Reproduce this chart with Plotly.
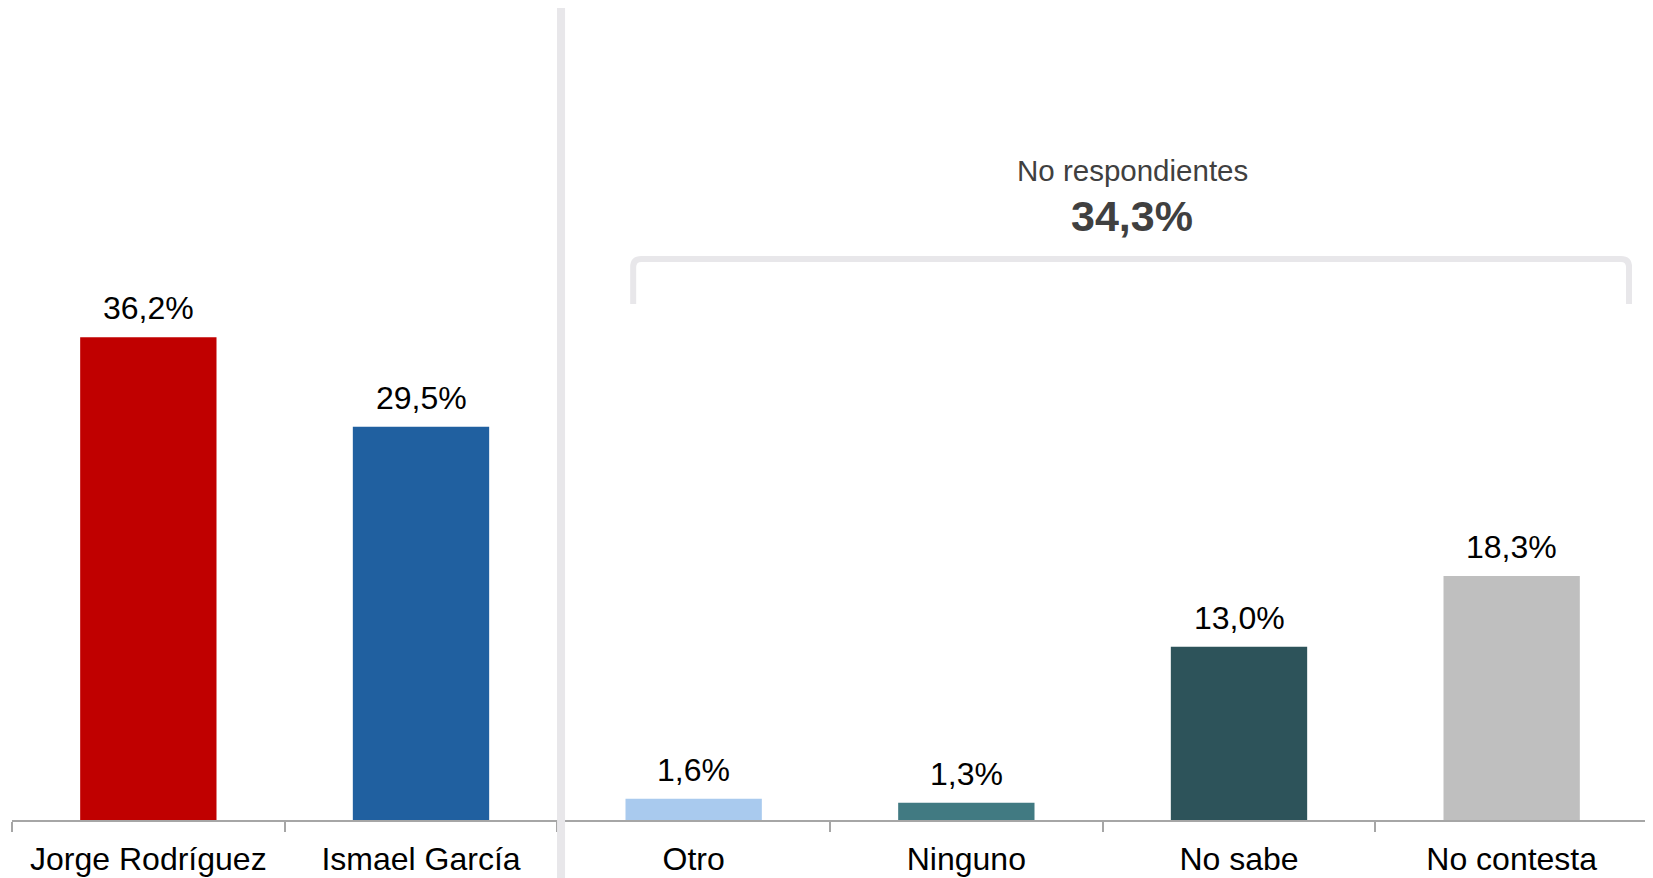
import plotly.graph_objects as go

categories = ["Jorge Rodríguez", "Ismael García", "Otro", "Ninguno", "No sabe", "No contesta"]
values = [36.2, 29.5, 1.6, 1.3, 13.0, 18.3]
colors = ["#c00000", "#2060a0", "#a9caee", "#417a82", "#2d535a", "#bfbfbf"]
group_title = "No respondientes"
group_total = 34.3

FONT = "Liberation Sans, Arial, sans-serif"

def fmt(v):
    return f"{v:.1f}%".replace(".", ",")

fig = go.Figure()
fig.add_trace(go.Bar(
    x=categories, y=values, marker=dict(color=colors, line=dict(width=0)),
    width=0.5, hoverinfo="skip", showlegend=False,
))

# value labels
for c, v in zip(categories, values):
    fig.add_annotation(x=c, y=v, xref="x", yref="y", text=fmt(v), showarrow=False,
                       yanchor="middle", yshift=29,
                       font=dict(family=FONT, size=32, color="#000000"))

# group annotation
fig.add_annotation(x=0.6846, y=0.7993, xref="paper", yref="paper", text=group_title,
                   showarrow=False, xanchor="center", yanchor="middle",
                   font=dict(family=FONT, size=29.5, color="#404040"))
fig.add_annotation(x=0.6846, y=0.7438, xref="paper", yref="paper", text=f"<b>{fmt(group_total)}</b>",
                   showarrow=False, xanchor="center", yanchor="middle",
                   font=dict(family=FONT, size=43, color="#404040"))

# bracket
xl, xr, yt, yb = 0.3797, 0.9884, 0.6909, 0.6355
rx, ry = 0.005, 0.010
path = (f"M {xl},{yb} L {xl},{yt-ry} Q {xl},{yt} {xl+rx},{yt} "
        f"L {xr-rx},{yt} Q {xr},{yt} {xr},{yt-ry} L {xr},{yb}")
fig.add_shape(type="path", path=path, xref="paper", yref="paper",
              line=dict(color="#e8e7ea", width=6))

# divider
fig.add_shape(type="line", xref="paper", yref="paper", x0=0.3356, x1=0.3356,
              y0=-0.09, y1=1.0, line=dict(color="#e8e7ea", width=8), layer="above")

fig.update_layout(
    width=1645, height=870,
    margin=dict(l=4, r=5, t=0, b=58),
    paper_bgcolor="white", plot_bgcolor="white",
    bargap=0.5,
    font=dict(family=FONT, size=32, color="#000000"),
    xaxis=dict(type="category", showline=True, linecolor="#a6a6a6", linewidth=2,
               ticks="outside", tickson="boundaries", ticklen=10, tickwidth=2,
               tickcolor="#a6a6a6", showgrid=False, zeroline=False,
               ticklabelstandoff=10,
               tickfont=dict(family=FONT, size=32, color="#000000")),
    yaxis=dict(range=[0, 60.9], visible=False, showgrid=False, zeroline=False),
)

fig.write_html("out.html")
